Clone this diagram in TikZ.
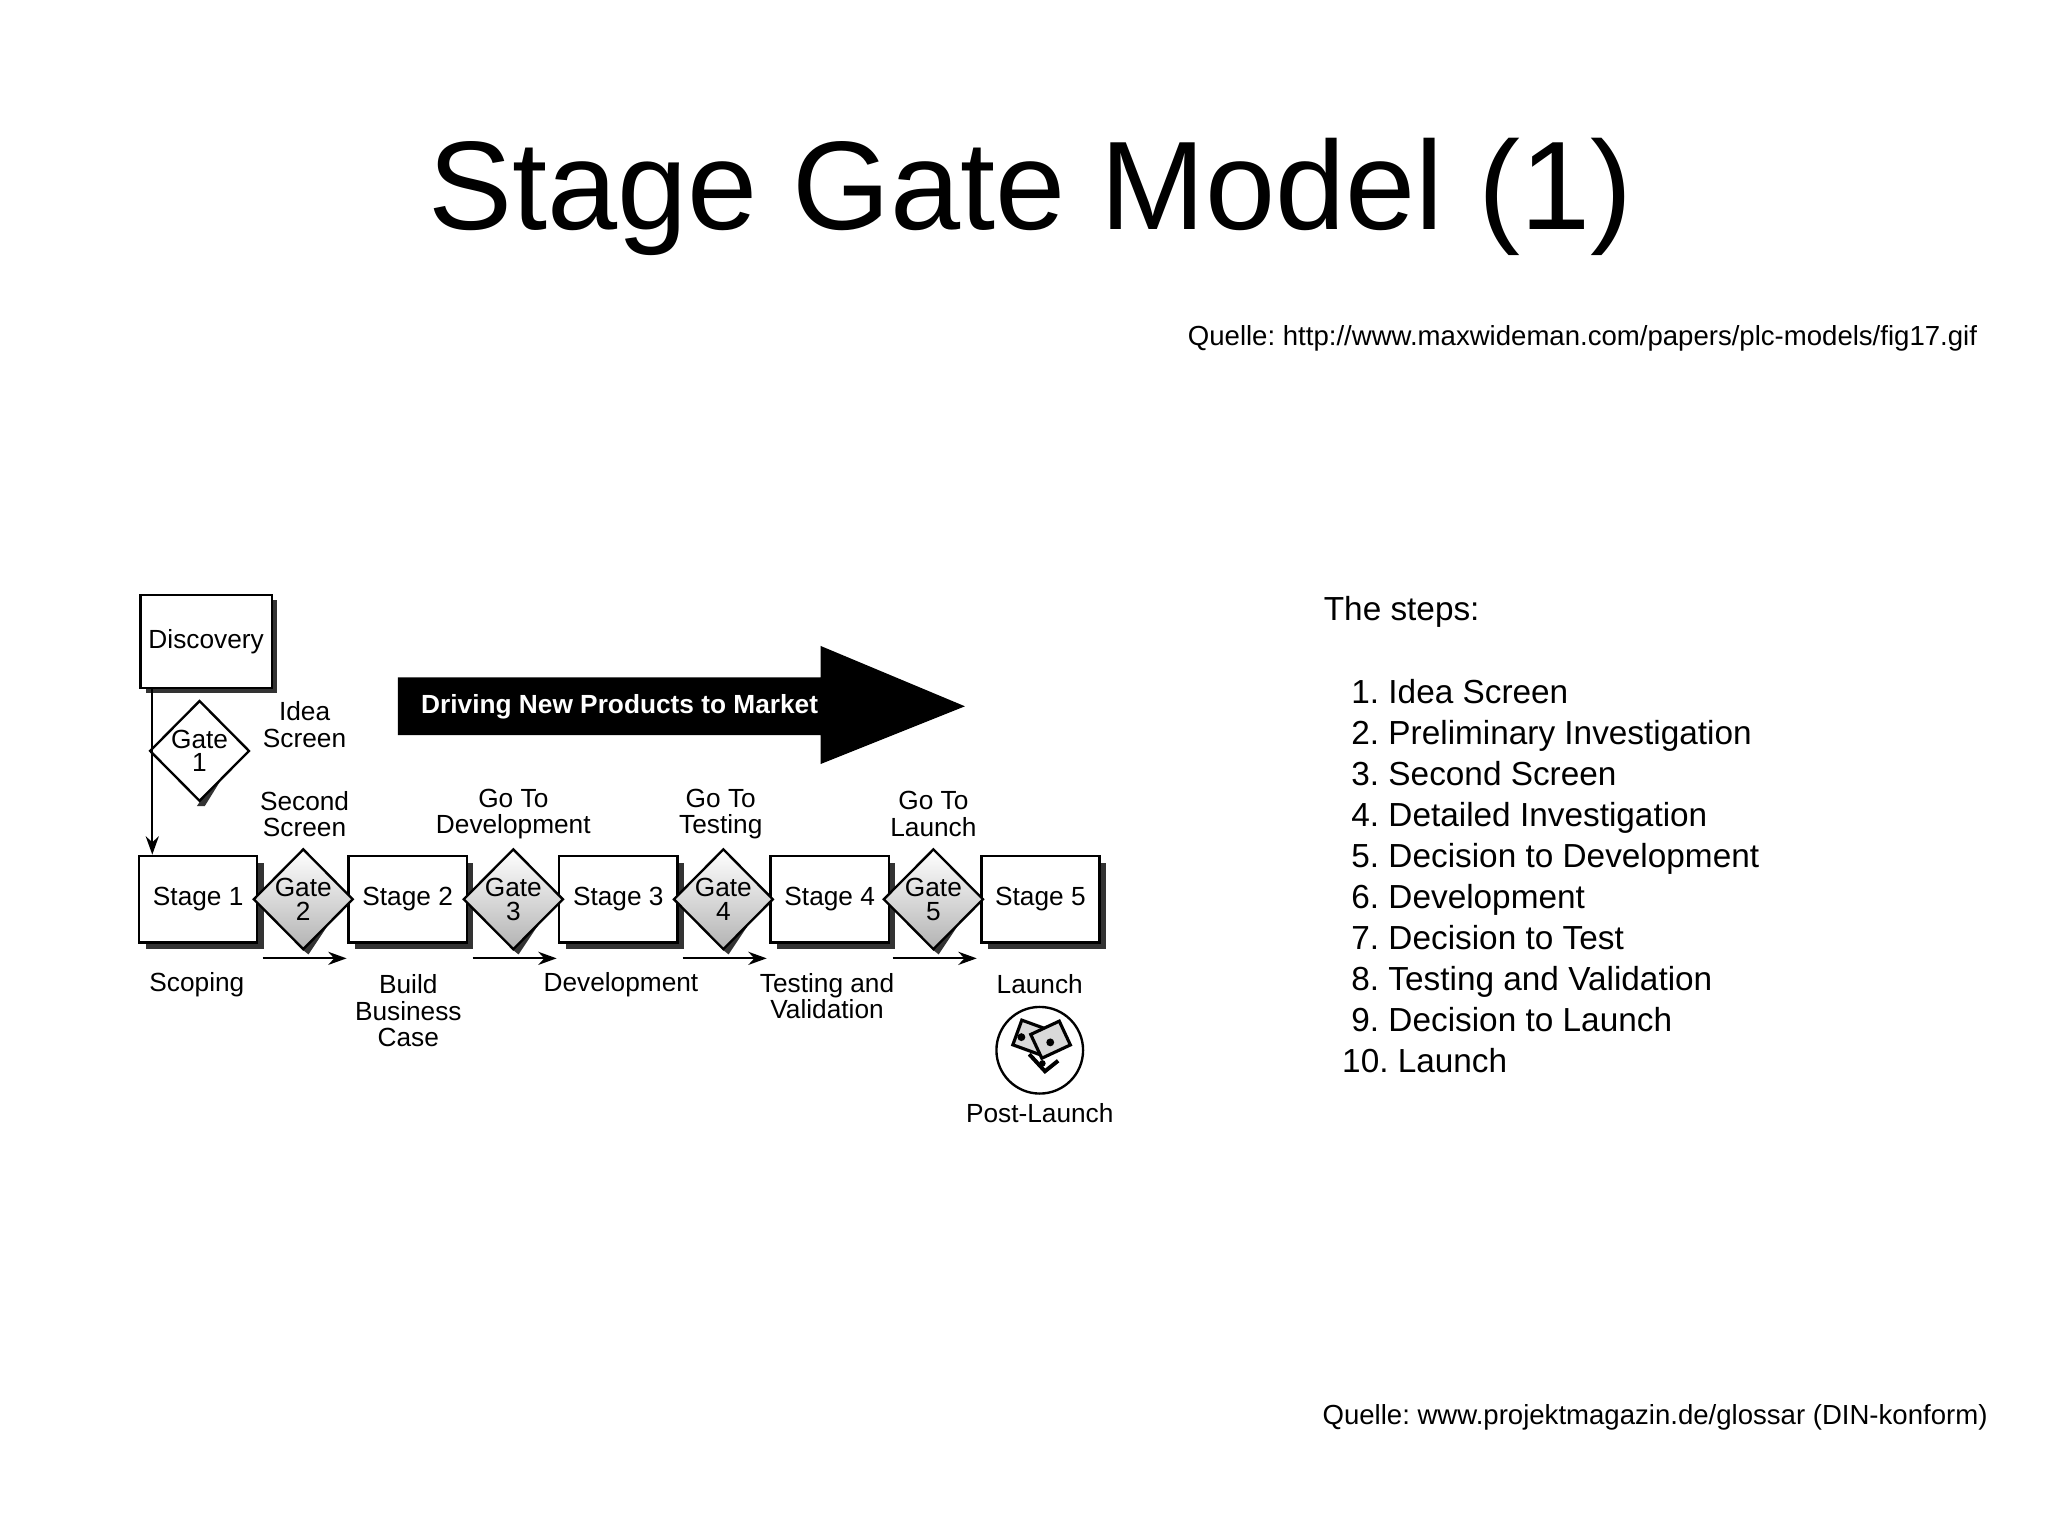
\documentclass[tikz,border=0pt]{standalone}
\usepackage{fontspec}
\setmainfont{Liberation Sans}
\usetikzlibrary{shapes.geometric,arrows.meta}
\frenchspacing
\begin{document}
\begin{tikzpicture}[x=0.5pt,y=-0.5pt,
  stage/.style={draw,line width=0.9pt,fill=white,minimum width=45pt,minimum height=33pt,inner sep=0pt,font=\fontsize{10}{11}\selectfont},
  shadow/.style={fill=black!80},
  gate/.style={draw,diamond,line width=0.9pt,minimum width=29pt,minimum height=38pt,inner sep=0pt,outer sep=0pt,align=center,font=\fontsize{10}{10}\selectfont},
  lbl/.style={align=center,font=\fontsize{10}{10}\selectfont},
  flow/.style={-{Stealth[length=7pt,width=5pt]},line width=0.8pt},
  stepitem/.style={anchor=base west,inner sep=0pt,font=\fontsize{12.7}{15}\selectfont}]
\useasboundingbox (0,0) rectangle (1560,1170);
% header
\node (title) at (785,150) {\fontsize{48}{54}\selectfont Stage Gate Model (1)};
\node[anchor=east,font=\fontsize{10.5}{12}\selectfont] (src1) at (1513,258) {Quelle: http://www.maxwideman.com/papers/plc-models/fig17.gif};
\node[anchor=east,font=\fontsize{10.5}{12}\selectfont] (src2) at (1521,1080) {Quelle: www.projektmagazin.de/glossar (DIN-konform)};
% steps
\node[stepitem] (steps) at (1008,473) {The steps:};
\foreach \i/\t in {1/Idea Screen,2/Preliminary Investigation,3/Second Screen,4/Detailed Investigation,5/Decision to Development,6/Development,7/Decision to Test,8/Testing and Validation,9/Decision to Launch}{
  \node[stepitem] (s\i) at (1029,{536+(\i-1)*31.2}) {\i. \t};
}
\node[stepitem] (s10) at (1022,{536+9*31.2}) {10. Launch};
% big arrow
\fill (303,516) -- (625,516) -- (625,492) -- (735,538) -- (625,582) -- (625,560) -- (303,560) -- cycle;
\node[text=white,font=\bfseries\fontsize{10}{11}\selectfont] (drive) at (472,538) {Driving New Products to Market};
% discovery
\fill[shadow] (111,457) rectangle (211,528);
\node[stage,minimum width=50pt,minimum height=35.5pt] (disc) at (157,488.5) {Discovery};
% stages
\foreach \i/\x in {1/151,2/310.5,3/471,4/632,5/792.5}{
  \fill[shadow] (\x-45+5,657) rectangle (\x+45+5,723);
  \node[stage] (st\i) at (\x,685) {Stage \i};
}
% gates
\fill[shadow] (182,572) -- (156,614) -- (150,614) -- (178,572) -- cycle;
\node[gate,fill=white] (g1) at (152,572) {Gate\\[-1pt]1};
\foreach \i/\x in {2/231,3/391,4/551,5/711}{
  \fill[shadow] (\x+32,685) -- (\x+4,727) -- (\x-1,723) -- (\x+29,685) -- cycle;
  \node[gate,top color=white,bottom color=black!30] (g\i) at (\x,685) {Gate\\[-1pt]\i};
  \coordinate (a\i) at (\x-31,730);
  \coordinate (b\i) at (\x+33,730);
  \draw[flow] (a\i) -- (b\i);
}
\coordinate (dtop) at (116,524);
\coordinate (dbot) at (116,651);
\draw[flow] (dtop) -- (dbot);
% labels
\node[lbl] (l1) at (232,552) {Idea\\Screen};
\node[lbl] (l2) at (232,620) {Second\\Screen};
\node[lbl] (l3) at (391,620) {Go To\\Development};
\node[lbl] (l4) at (549,620) {Go To\\Testing};
\node[lbl] (l5) at (711,620) {Go To\\Launch};
\node[lbl] (u1) at (150,750) {Scoping};
\node[lbl] (u2) at (311,770) {Build\\Business\\Case};
\node[lbl] (u3) at (473,750) {Development};
\node[lbl] (u4) at (630,759) {Testing and\\Validation};
\node[lbl] (u5) at (792,750) {Launch};
\node[lbl] (u6) at (792,848) {Post-Launch};
% post-launch icon
\draw[line width=0.9pt] (792,800) circle (33);
\begin{scope}[shift={(792,798)}]
  \draw[line width=1.2pt,fill=black!15,rotate=-20] (-20,-15) rectangle (5,5);
  \draw[line width=1.2pt,fill=black!15,rotate=25] (-2,-12) rectangle (22,8);
  \draw[line width=1.5pt] (-8,5) -- (4,18) -- (14,10);
  \fill (-14,-8) circle (3) (8,-4) circle (3) (2,12) circle (2.5);
\end{scope}
\end{tikzpicture}
\end{document}
